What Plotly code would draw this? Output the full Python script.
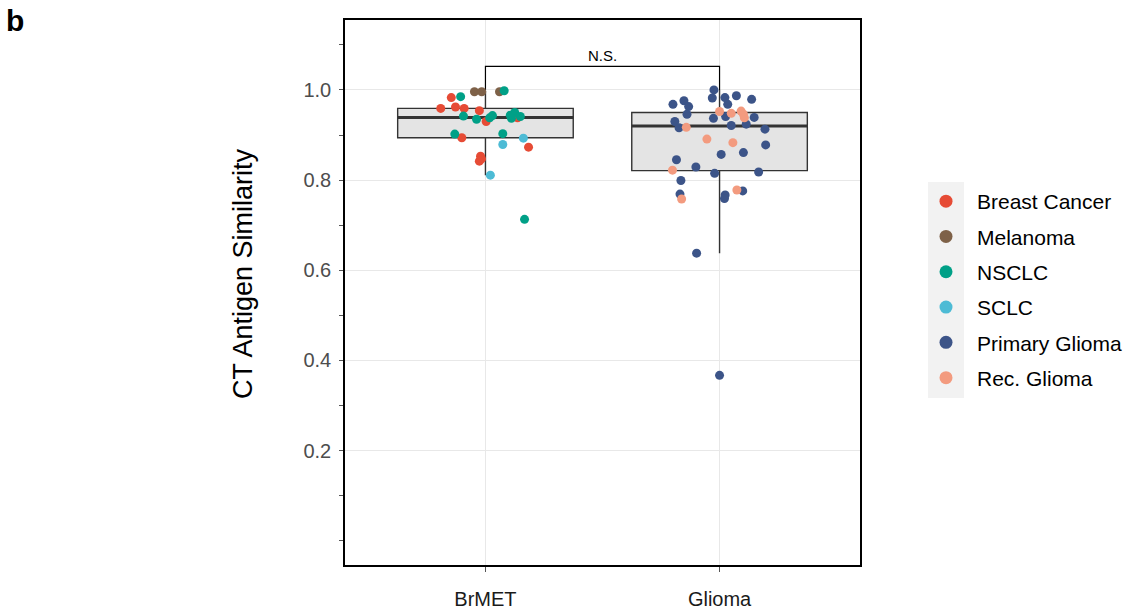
import plotly.graph_objects as go

# ---- data -------------------------------------------------------------
groups = ["BrMET", "Glioma"]
group_pos = [0, 1]

# five-number summaries of each box (whiskers exclude outliers)
box_q1 = [0.894, 0.821]
box_median = [0.939, 0.920]
box_q3 = [0.959, 0.950]
box_low = [0.811, 0.638]
box_high = [0.998, 1.000]

# per-sample similarity and horizontal jitter, by tumour type
breast_vals = [0.983, 0.959, 0.962, 0.959, 0.954, 0.930, 0.938, 0.894, 0.873, 0.853, 0.847, 0.842]
breast_jit = [-0.146, -0.191, -0.128, -0.091, -0.026, 0.003, 0.137, -0.101, 0.184, -0.021, -0.017, -0.026]

melanoma_vals = [0.996, 0.996, 0.996]
melanoma_jit = [-0.047, -0.016, 0.060]

nsclc_vals = [0.998, 0.985, 0.942, 0.935, 0.938, 0.943, 0.944, 0.950, 0.941, 0.937, 0.902, 0.903, 0.713]
nsclc_jit = [0.080, -0.106, -0.094, -0.038, 0.018, 0.030, 0.106, 0.125, 0.149, 0.111, -0.131, 0.074, 0.167]

sclc_vals = [0.879, 0.893, 0.811]
sclc_jit = [0.074, 0.162, 0.021]

primary_vals = [1.000, 0.982, 0.983, 0.987, 0.979, 0.968, 0.976, 0.963, 0.946, 0.968,
                0.941, 0.937, 0.939, 0.930, 0.916, 0.921, 0.924, 0.913, 0.878, 0.861,
                0.857, 0.845, 0.829, 0.815, 0.818, 0.799, 0.769, 0.767, 0.759, 0.776,
                0.638, 0.367]
primary_jit = [-0.024, -0.031, 0.023, 0.072, 0.137, -0.199, -0.152, -0.132, -0.139, 0.035,
               0.026, -0.026, 0.148, -0.191, -0.173, 0.050, 0.114, 0.194, 0.197, 0.102,
               0.007, -0.184, -0.101, -0.021, 0.167, -0.165, -0.169, 0.024, 0.021, 0.099,
               -0.098, 0.000]

rec_vals = [0.952, 0.948, 0.953, 0.946, 0.938, 0.917, 0.891, 0.883, 0.822, 0.778, 0.758]
rec_jit = [0.000, 0.050, 0.092, 0.102, 0.106, -0.142, -0.054, 0.057, -0.201, 0.074, -0.162]

series = [
    ("Breast Cancer", "#E64B35", 0, breast_vals, breast_jit),
    ("Melanoma", "#7E6148", 0, melanoma_vals, melanoma_jit),
    ("NSCLC", "#00A087", 0, nsclc_vals, nsclc_jit),
    ("SCLC", "#4DBBD5", 0, sclc_vals, sclc_jit),
    ("Primary Glioma", "#3C5488", 1, primary_vals, primary_jit),
    ("Rec. Glioma", "#F39B7F", 1, rec_vals, rec_jit),
]

y_ticks = [0.2, 0.4, 0.6, 0.8, 1.0]
bracket_y = 1.052
bracket_tip = 1.0
sig_label = "N.S."

FONT = "Liberation Sans, Arial, Helvetica, sans-serif"
BOX_W = 0.75

fig = go.Figure()

# boxes
fig.add_trace(go.Box(
    x=group_pos, q1=box_q1, median=box_median, q3=box_q3,
    lowerfence=box_low, upperfence=box_high,
    width=BOX_W, fillcolor="#e4e4e4",
    line=dict(color="#333333", width=1.4),
    whiskerwidth=0, boxpoints=False, showlegend=False, hoverinfo="skip",
))

# thicker median bars
mx, my = [], []
for p, m in zip(group_pos, box_median):
    mx += [p - BOX_W / 2, p + BOX_W / 2, None]
    my += [m, m, None]
fig.add_trace(go.Scatter(x=mx, y=my, mode="lines",
                         line=dict(color="#333333", width=3),
                         showlegend=False, hoverinfo="skip"))

# significance bracket
fig.add_trace(go.Scatter(
    x=[group_pos[0], group_pos[0], group_pos[1], group_pos[1]],
    y=[bracket_tip, bracket_y, bracket_y, bracket_tip],
    mode="lines", line=dict(color="black", width=1.2),
    showlegend=False, hoverinfo="skip"))

# jittered samples
for name, color, g, vals, jit in series:
    fig.add_trace(go.Scatter(
        x=[group_pos[g] + j for j in jit], y=vals, mode="markers",
        marker=dict(color=color, size=9, line=dict(width=0)),
        name=name, showlegend=False))

# legend keys
for name, color, g, vals, jit in series:
    fig.add_trace(go.Scatter(
        x=[None], y=[None], mode="markers",
        marker=dict(color=color, size=13),
        name=name, legendgroup=name, showlegend=True))

L, R, T, B = 345, 270, 20, 46
W, H = 1130, 611
pw, ph = W - L - R, H - T - B

def px_x(x):
    return (x - L) / pw

def px_y(y):
    return (H - B - y) / ph

fig.add_annotation(x=0.5, y=bracket_y, xref="x", yref="y", text=sig_label,
                   showarrow=False, xanchor="center", yanchor="bottom", yshift=0,
                   font=dict(family=FONT, size=15, color="black"))

fig.add_annotation(x=px_x(14.5), y=px_y(21), xref="paper", yref="paper",
                   text="<b>b</b>", showarrow=False,
                   xanchor="center", yanchor="middle",
                   font=dict(family=FONT, size=30, color="black"))

fig.add_annotation(x=px_x(243), y=px_y(274), xref="paper", yref="paper",
                   text="CT Antigen Similarity", textangle=-90, showarrow=False,
                   xanchor="center", yanchor="middle",
                   font=dict(family=FONT, size=27, color="black"))

# grey backing behind legend keys
fig.add_shape(type="rect", xref="paper", yref="paper",
              x0=px_x(928), x1=px_x(964), y0=px_y(398), y1=px_y(182),
              fillcolor="#f2f2f2", line=dict(width=0), layer="below")

fig.update_layout(
    width=W, height=H,
    margin=dict(l=L, r=R, t=T, b=B, pad=0, autoexpand=False),
    paper_bgcolor="white", plot_bgcolor="white",
    font=dict(family=FONT, size=20, color="black"),
    legend=dict(x=px_x(915), y=px_y(181), xanchor="left", yanchor="top",
                bgcolor="rgba(0,0,0,0)", tracegroupgap=5, itemwidth=52,
                font=dict(family=FONT, size=21, color="black"),
                itemsizing="trace"),
    xaxis=dict(range=[-0.6, 1.6], tickvals=group_pos, ticktext=groups,
               showgrid=True, gridcolor="#e8e8e8", gridwidth=1,
               zeroline=False, showline=True, mirror=True,
               linecolor="black", linewidth=1.5, automargin=False,
               ticks="outside", ticklen=5, tickcolor="#555555",
               ticklabelstandoff=10,
               tickfont=dict(family=FONT, size=20, color="#1a1a1a")),
    yaxis=dict(range=[-0.0535, 1.155],
               tickvals=y_ticks, ticktext=[f"{v:.1f}" for v in y_ticks],
               showgrid=True, gridcolor="#e8e8e8", gridwidth=1,
               zeroline=False, showline=True, mirror=True,
               linecolor="black", linewidth=1.5, automargin=False,
               ticks="outside", ticklen=4, tickcolor="#555555",
               ticklabelstandoff=4,
               minor=dict(ticks="outside", ticklen=4, tickcolor="#555555",
                          tick0=0, dtick=0.1, showgrid=False),
               tickfont=dict(family=FONT, size=20, color="#4d4d4d")),
)

fig.write_html("out.html")
